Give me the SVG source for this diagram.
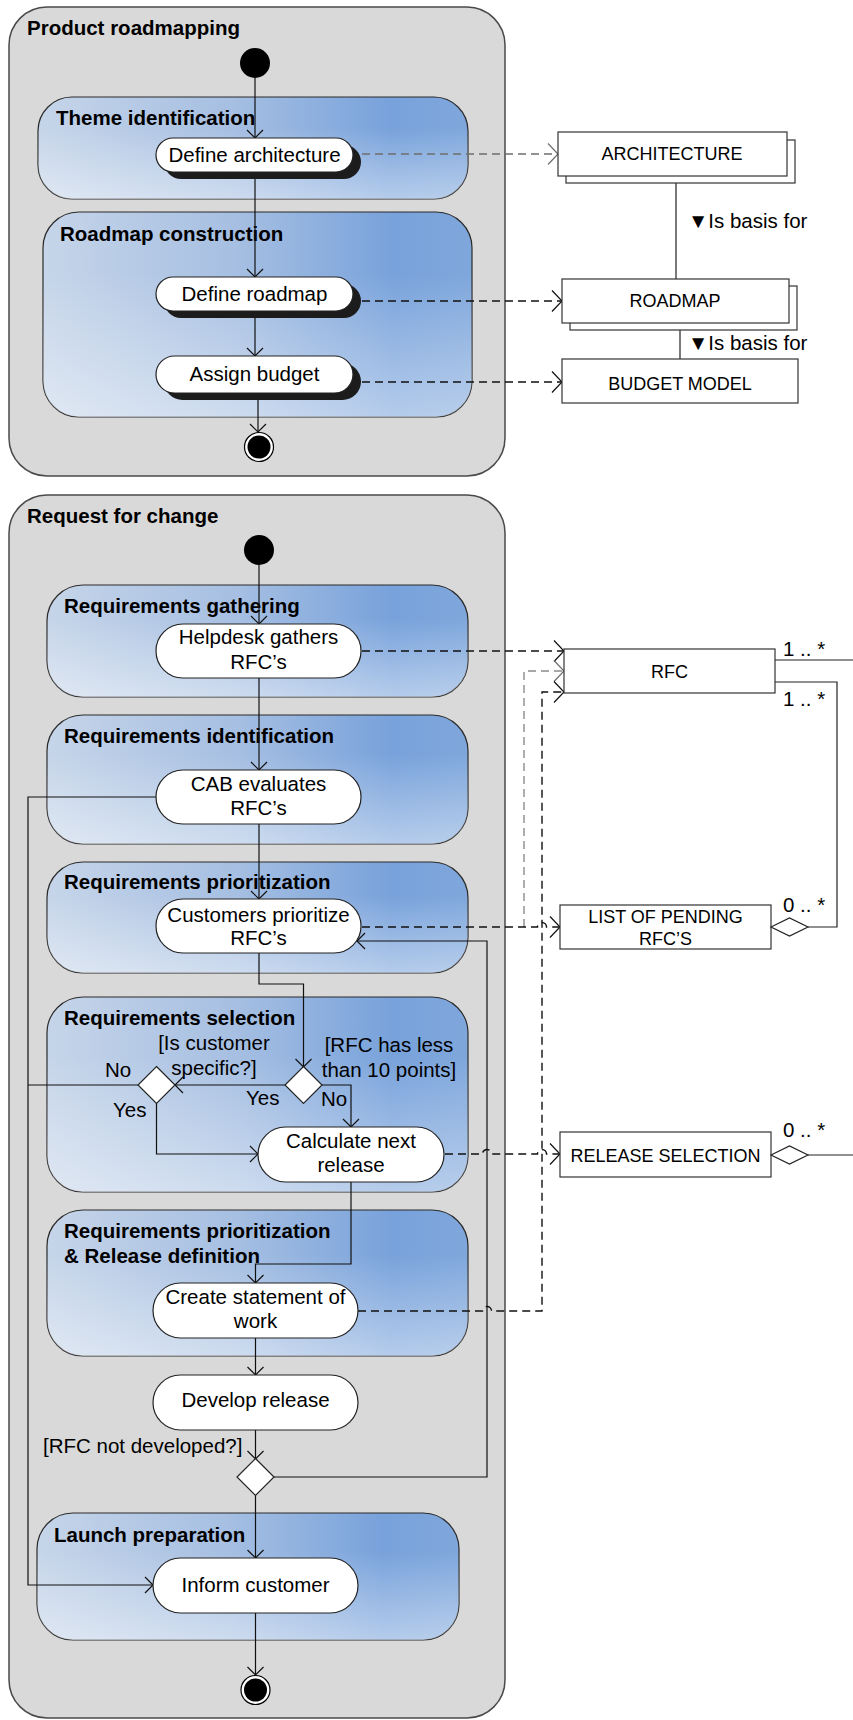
<svg xmlns="http://www.w3.org/2000/svg" width="853" height="1720" viewBox="0 0 853 1720">
  <style>
    text { font-family: "Liberation Sans", Arial, sans-serif; fill: #000; }
    .title { font-size: 20.5px; font-weight: bold; }
    .lbl { font-size: 20.5px; }
    .mid { text-anchor: middle; }
    .obj { font-size: 18px; text-anchor: middle; }
    .outer { fill: #d9d9d9; stroke: #4a4a4a; stroke-width: 1.5; }
    .phase { fill: url(#phaseFill); stroke: #2b2b2b; stroke-width: 1.2; }
    .haze { fill: url(#phaseHaze); stroke: none; }
    .act { fill: #fff; stroke: #222; stroke-width: 1.2; }
    .shadow { fill: #1c1c1c; stroke: none; }
    .box { fill: #fff; stroke: #333; stroke-width: 1.2; }
    .dia { fill: #fff; stroke: #222; stroke-width: 1.2; }
    .flow { fill: none; stroke: #111; stroke-width: 1.2; }
    .dep { fill: none; stroke: #111; stroke-width: 1.4; stroke-dasharray: 8 5; }
    .dep.grey { stroke: #6e6e6e; }
    .dep.light { stroke: #8c8c8c; }
    .assoc { fill: none; stroke: #222; stroke-width: 1.2; }
  </style>
  <defs>
    <linearGradient id="phaseFill" x1="0" y1="0" x2="1" y2="0">
      <stop offset="0" stop-color="#c6d5e9"/>
      <stop offset="0.45" stop-color="#a6bfe2"/>
      <stop offset="0.82" stop-color="#78a2db"/>
      <stop offset="1" stop-color="#7fa7dc"/>
    </linearGradient>
    <linearGradient id="phaseHaze" x1="0" y1="0" x2="0" y2="1">
      <stop offset="0.3" stop-color="#ffffff" stop-opacity="0"/>
      <stop offset="1" stop-color="#ffffff" stop-opacity="0.45"/>
    </linearGradient>
    <marker id="arrow" viewBox="-10 -10 12 20" refX="0" refY="0" markerWidth="12" markerHeight="20" markerUnits="userSpaceOnUse" orient="auto">
      <path d="M-8,-8 L0,0 L-8,8" fill="none" stroke="#111" stroke-width="1.2"/>
    </marker>
    <marker id="depArrow" viewBox="-12 -12 14 24" refX="0" refY="0" markerWidth="14" markerHeight="24" markerUnits="userSpaceOnUse" orient="auto">
      <path d="M-10,-10.5 L0,0 L-10,10.5" fill="none" stroke="#111" stroke-width="1.2" stroke-dasharray="none"/>
    </marker>
    <marker id="depArrowGrey" viewBox="-12 -12 14 24" refX="0" refY="0" markerWidth="14" markerHeight="24" markerUnits="userSpaceOnUse" orient="auto">
      <path d="M-10,-10.5 L0,0 L-10,10.5" fill="none" stroke="#6e6e6e" stroke-width="1.2" stroke-dasharray="none"/>
    </marker>
  </defs>

  <!-- Product roadmapping activity -->
  <g id="product-roadmapping">
    <rect class="outer" x="9" y="7" width="496" height="469" rx="38"/>
    <text class="title" x="27" y="35">Product roadmapping</text>
  </g>
  <g id="theme-identification">
    <rect class="phase" x="38" y="97" width="430" height="102" rx="34"/>
    <rect class="haze" x="38" y="97" width="430" height="102" rx="34"/>
    <text class="title" x="56" y="125">Theme identification</text>
  </g>
  <g id="roadmap-construction">
    <rect class="phase" x="43" y="212" width="429" height="205" rx="36"/>
    <rect class="haze" x="43" y="212" width="429" height="205" rx="36"/>
    <text class="title" x="60" y="241">Roadmap construction</text>
  </g>

  <!-- Request for change activity -->
  <g id="request-for-change">
    <rect class="outer" x="9" y="495" width="496" height="1223" rx="38"/>
    <text class="title" x="27" y="523">Request for change</text>
  </g>
  <g id="requirements-gathering">
    <rect class="phase" x="47" y="585" width="421" height="112" rx="36"/>
    <rect class="haze" x="47" y="585" width="421" height="112" rx="36"/>
    <text class="title" x="64" y="613">Requirements gathering</text>
  </g>
  <g id="requirements-identification">
    <rect class="phase" x="47" y="715" width="421" height="129" rx="36"/>
    <rect class="haze" x="47" y="715" width="421" height="129" rx="36"/>
    <text class="title" x="64" y="743">Requirements identification</text>
  </g>
  <g id="requirements-prioritization">
    <rect class="phase" x="47" y="862" width="421" height="111" rx="36"/>
    <rect class="haze" x="47" y="862" width="421" height="111" rx="36"/>
    <text class="title" x="64" y="889">Requirements prioritization</text>
  </g>
  <g id="requirements-selection">
    <rect class="phase" x="47" y="997" width="421" height="195" rx="36"/>
    <rect class="haze" x="47" y="997" width="421" height="195" rx="36"/>
    <text class="title" x="64" y="1025">Requirements selection</text>
  </g>
  <g id="release-definition">
    <rect class="phase" x="47" y="1210" width="421" height="146" rx="36"/>
    <rect class="haze" x="47" y="1210" width="421" height="146" rx="36"/>
    <text class="title" x="64" y="1238">Requirements prioritization</text>
    <text class="title" x="64" y="1263">&amp; Release definition</text>
  </g>
  <g id="launch-preparation">
    <rect class="phase" x="37" y="1513" width="422" height="127" rx="36"/>
    <rect class="haze" x="37" y="1513" width="422" height="127" rx="36"/>
    <text class="title" x="54" y="1542">Launch preparation</text>
  </g>

  <!-- Control flow and dependencies -->
  <g id="connectors">
    <!-- product roadmapping flow -->
    <path class="flow" d="M255,78 V138" marker-end="url(#arrow)"/>
    <path class="flow" d="M255,172 V277" marker-end="url(#arrow)"/>
    <path class="flow" d="M255,311 V356" marker-end="url(#arrow)"/>
    <path class="flow" d="M258,400 V432" marker-end="url(#arrow)"/>

    <!-- product roadmapping dependencies -->
    <path class="dep grey" d="M362,154 H558" marker-end="url(#depArrowGrey)"/>
    <path class="dep" d="M362,301 H562" marker-end="url(#depArrow)"/>
    <path class="dep" d="M362,382 H562" marker-end="url(#depArrow)"/>

    <!-- artefact associations -->
    <path class="assoc" d="M676,183 V279"/>
    <path class="assoc" d="M680,330 V359"/>

    <!-- request for change flow -->
    <path class="flow" d="M259,565 V624" marker-end="url(#arrow)"/>
    <path class="flow" d="M259,678 V770" marker-end="url(#arrow)"/>
    <path class="flow" d="M259,824 V899" marker-end="url(#arrow)"/>
    <path class="flow" d="M259,953 V984 H303.5 V1067" marker-end="url(#arrow)"/>
    <path class="flow" d="M285,1085 H175" marker-end="url(#arrow)"/>
    <path class="flow" d="M322,1085 H351 V1127" marker-end="url(#arrow)"/>
    <path class="flow" d="M156.5,1103 V1154 H258" marker-end="url(#arrow)"/>
    <path class="flow" d="M138,1085 H28"/>
    <path class="flow" d="M156,797 H28 V1585 H153" marker-end="url(#arrow)"/>
    <path class="flow" d="M351,1182 V1264 H255.5 V1283" marker-end="url(#arrow)"/>
    <path class="flow" d="M255.5,1338 V1375" marker-end="url(#arrow)"/>
    <path class="flow" d="M255.5,1430 V1459" marker-end="url(#arrow)"/>
    <path class="flow" d="M274,1477 H487 V941 H357" marker-end="url(#arrow)"/>
    <path class="flow" d="M255.5,1495 V1558" marker-end="url(#arrow)"/>
    <path class="flow" d="M255.5,1613 V1675" marker-end="url(#arrow)"/>

    <!-- request for change dependencies -->
    <path class="dep" d="M362,651 H564" marker-end="url(#depArrow)"/>
    <path class="dep light" d="M524,927 V671 H564" marker-end="url(#depArrowGrey)"/>
    <path class="dep" d="M362,927 H537.5 A4.5,4.5 0 0 1 546.5,927 H560" marker-end="url(#depArrow)"/>
    <path class="dep" d="M445,1154 H482.5 A4.5,4.5 0 0 1 491.5,1154 H537.5 A4.5,4.5 0 0 1 546.5,1154 H560" marker-end="url(#depArrow)"/>
    <path class="dep" d="M358,1311 H482.5 A4.5,4.5 0 0 1 491.5,1311 H542 V692 H564" marker-end="url(#depArrow)"/>

    <!-- artefact associations -->
    <path class="assoc" d="M775,660 H853"/>
    <path class="assoc" d="M775,682 H837 V927 H808"/>
    <path class="assoc" d="M808,1155 H853"/>
  </g>

  <!-- Product roadmapping nodes -->
  <g id="start-roadmapping">
    <circle cx="255" cy="63" r="15" fill="#000"/>
  </g>
  <g id="define-architecture">
    <rect class="shadow" x="164" y="145" width="197" height="34" rx="17"/>
    <rect class="act" x="156" y="138" width="197" height="34" rx="17"/>
    <text class="lbl mid" x="254.5" y="162">Define architecture</text>
  </g>
  <g id="define-roadmap">
    <rect class="shadow" x="164" y="284" width="197" height="34" rx="17"/>
    <rect class="act" x="156" y="277" width="197" height="34" rx="17"/>
    <text class="lbl mid" x="254.5" y="301">Define roadmap</text>
  </g>
  <g id="assign-budget">
    <rect class="shadow" x="164" y="363" width="197" height="37" rx="18.5"/>
    <rect class="act" x="156" y="356" width="197" height="37" rx="18.5"/>
    <text class="lbl mid" x="254.5" y="381">Assign budget</text>
  </g>
  <g id="end-roadmapping">
    <circle cx="259" cy="447" r="14.5" fill="#fff" stroke="#000" stroke-width="1.2"/>
    <circle cx="259" cy="447" r="11.5" fill="#000"/>
  </g>

  <!-- Artefacts -->
  <g id="architecture">
    <rect class="box" x="566" y="140" width="229" height="43"/>
    <rect class="box" x="558" y="132" width="229" height="44"/>
    <text class="obj" x="672" y="160">ARCHITECTURE</text>
  </g>
  <g id="roadmap">
    <rect class="box" x="570" y="286" width="227" height="44"/>
    <rect class="box" x="562" y="279" width="227" height="44"/>
    <text class="obj" x="675" y="307">ROADMAP</text>
  </g>
  <g id="budget-model">
    <rect class="box" x="562" y="359" width="236" height="44"/>
    <text class="obj" x="680" y="390">BUDGET MODEL</text>
  </g>
  <g id="basis-labels">
    <text class="lbl" x="688" y="228">▼Is basis for</text>
    <text class="lbl" x="688" y="350">▼Is basis for</text>
  </g>

  <!-- Request for change nodes -->
  <g id="start-rfc">
    <circle cx="259" cy="550" r="15" fill="#000"/>
  </g>
  <g id="helpdesk-gathers">
    <rect class="act" x="156" y="624" width="205" height="54" rx="27"/>
    <text class="lbl mid" x="258.5" y="644">Helpdesk gathers</text>
    <text class="lbl mid" x="258.5" y="669">RFC’s</text>
  </g>
  <g id="cab-evaluates">
    <rect class="act" x="156" y="770" width="205" height="54" rx="27"/>
    <text class="lbl mid" x="258.5" y="791">CAB evaluates</text>
    <text class="lbl mid" x="258.5" y="815">RFC’s</text>
  </g>
  <g id="customers-prioritize">
    <rect class="act" x="156" y="899" width="205" height="54" rx="27"/>
    <text class="lbl mid" x="258.5" y="922">Customers prioritize</text>
    <text class="lbl mid" x="258.5" y="945">RFC’s</text>
  </g>
  <g id="customer-specific">
    <path class="dia" d="M156.5,1066.5 L175,1085 L156.5,1103.5 L138,1085 Z"/>
    <text class="lbl mid" x="214" y="1050">[Is customer</text>
    <text class="lbl mid" x="214" y="1075">specific?]</text>
    <text class="lbl" x="105" y="1077">No</text>
    <text class="lbl" x="113" y="1117">Yes</text>
  </g>
  <g id="less-than-ten">
    <path class="dia" d="M303.5,1066.5 L322,1085 L303.5,1103.5 L285,1085 Z"/>
    <text class="lbl mid" x="389" y="1052">[RFC has less</text>
    <text class="lbl mid" x="389" y="1077">than 10 points]</text>
    <text class="lbl" x="246" y="1105">Yes</text>
    <text class="lbl" x="321" y="1106">No</text>
  </g>
  <g id="calculate-release">
    <rect class="act" x="258" y="1127" width="186" height="55" rx="27.5"/>
    <text class="lbl mid" x="351" y="1148">Calculate next</text>
    <text class="lbl mid" x="351" y="1172">release</text>
  </g>
  <g id="create-statement">
    <rect class="act" x="153" y="1283" width="205" height="55" rx="27.5"/>
    <text class="lbl mid" x="255.5" y="1304">Create statement of</text>
    <text class="lbl mid" x="255.5" y="1328">work</text>
  </g>
  <g id="develop-release">
    <rect class="act" x="153" y="1375" width="205" height="55" rx="27.5"/>
    <text class="lbl mid" x="255.5" y="1407">Develop release</text>
  </g>
  <g id="not-developed">
    <path class="dia" d="M255.5,1458.5 L274,1477 L255.5,1495.5 L237,1477 Z"/>
    <text class="lbl" x="43" y="1453">[RFC not developed?]</text>
  </g>
  <g id="inform-customer">
    <rect class="act" x="153" y="1558" width="205" height="55" rx="27.5"/>
    <text class="lbl mid" x="255.5" y="1592">Inform customer</text>
  </g>
  <g id="end-rfc">
    <circle cx="255.5" cy="1690" r="14.5" fill="#fff" stroke="#000" stroke-width="1.2"/>
    <circle cx="255.5" cy="1690" r="11.5" fill="#000"/>
  </g>

  <!-- RFC artefacts -->
  <g id="rfc">
    <rect class="box" x="564" y="649" width="211" height="44"/>
    <text class="obj" x="669.5" y="678">RFC</text>
    <text class="lbl" x="783" y="656">1 .. *</text>
    <text class="lbl" x="783" y="706">1 .. *</text>
  </g>
  <g id="pending-list">
    <rect class="box" x="560" y="905" width="211" height="44"/>
    <text class="obj" x="665.5" y="923">LIST OF PENDING</text>
    <text class="obj" x="665.5" y="945">RFC’S</text>
    <path class="dia" d="M771,927 L789.5,918 L808,927 L789.5,936 Z"/>
    <text class="lbl" x="783" y="912">0 .. *</text>
  </g>
  <g id="release-selection">
    <rect class="box" x="560" y="1132" width="211" height="45"/>
    <text class="obj" x="665.5" y="1162">RELEASE SELECTION</text>
    <path class="dia" d="M771,1155 L789.5,1146 L808,1155 L789.5,1164 Z"/>
    <text class="lbl" x="783" y="1137">0 .. *</text>
  </g>
</svg>
